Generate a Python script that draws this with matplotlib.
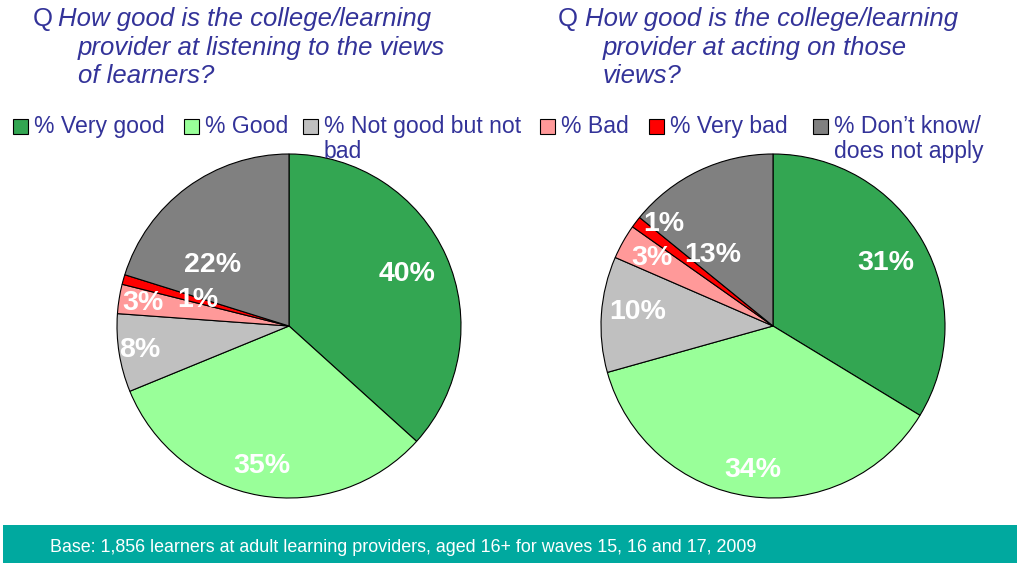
import matplotlib.pyplot as plt
import numpy as np
from matplotlib.patches import Rectangle

plt.rcParams['font.family'] = ['Liberation Sans', 'DejaVu Sans']

# data
categories = ['% Very good', '% Good', '% Not good but not\nbad', '% Bad', '% Very bad',
              '% Don\u2019t know/\ndoes not apply']
listening = [40, 35, 8, 3, 1, 22]
acting = [31, 34, 10, 3, 1, 13]
colors = ['#33A652', '#99FF99', '#C0C0C0', '#FF9999', '#FF0000', '#808080']

title_left = ['How good is the college/learning', 'provider at listening to the views', 'of learners?']
title_right = ['How good is the college/learning', 'provider at acting on those', 'views?']
footer = 'Base: 1,856 learners at adult learning providers, aged 16+ for waves 15, 16 and 17, 2009'

W, H = 1023, 563
fig = plt.figure(figsize=(W / 100, H / 100), dpi=100)
navy = '#333399'


def px(x, y):
    return x / W, 1 - y / H


def draw_pie(cx, cy, r, values, dists, offs):
    ax = fig.add_axes([(cx - r) / W, (H - cy - r) / H, 2 * r / W, 2 * r / H])
    wedges, _ = ax.pie(values, colors=colors, startangle=90, counterclock=False,
                       wedgeprops=dict(edgecolor='black', linewidth=0.8))
    for w, v, d, o in zip(wedges, values, dists, offs):
        ang = np.deg2rad((w.theta1 + w.theta2) / 2 + o)
        ax.text(d * np.cos(ang), d * np.sin(ang), f'{v}%', color='white',
                fontsize=20.5, fontweight='bold', ha='center', va='center')
    ax.set_xlim(-1, 1)
    ax.set_ylim(-1, 1)
    ax.axis('off')


draw_pie(289, 326, 172, listening, [0.75, 0.83, 0.88, 0.86, 0.55, 0.57], [0, -1, 0, 0, 0, 15])
draw_pie(773, 326, 172, acting, [0.75, 0.845, 0.79, 0.81, 0.87, 0.54], [0, 0, -2, 0, -6, 15])

# titles
for qx, tx, ix, lines in [(33, 58, 78, title_left), (558, 585, 603, title_right)]:
    fig.text(*px(qx, 19), 'Q', color=navy, fontsize=18.5, va='center')
    for i, line in enumerate(lines):
        x = tx if i == 0 else ix
        fig.text(*px(x, 19 + 28.5 * i), line, color=navy, fontsize=18.5,
                 style='italic', va='center')

# legend
leg_x = [13, 184, 303, 540, 649, 813]
for x, lab, c in zip(leg_x, categories, colors):
    fig.add_artist(Rectangle(px(x, 134), 15 / W, 15 / H, facecolor=c,
                             edgecolor='black', linewidth=0.8, transform=fig.transFigure))
    fig.text(*px(x + 21, 115), lab, color=navy, fontsize=16.6, va='top',
             linespacing=1.1)

# footer band
fig.add_artist(Rectangle(px(3, 563), 1014 / W, 38 / H, facecolor='#00A99F',
                         edgecolor='none', transform=fig.transFigure))
fig.text(*px(50, 547), footer, color='white', fontsize=12.9, va='center')

fig.savefig('out.png', dpi=100)
